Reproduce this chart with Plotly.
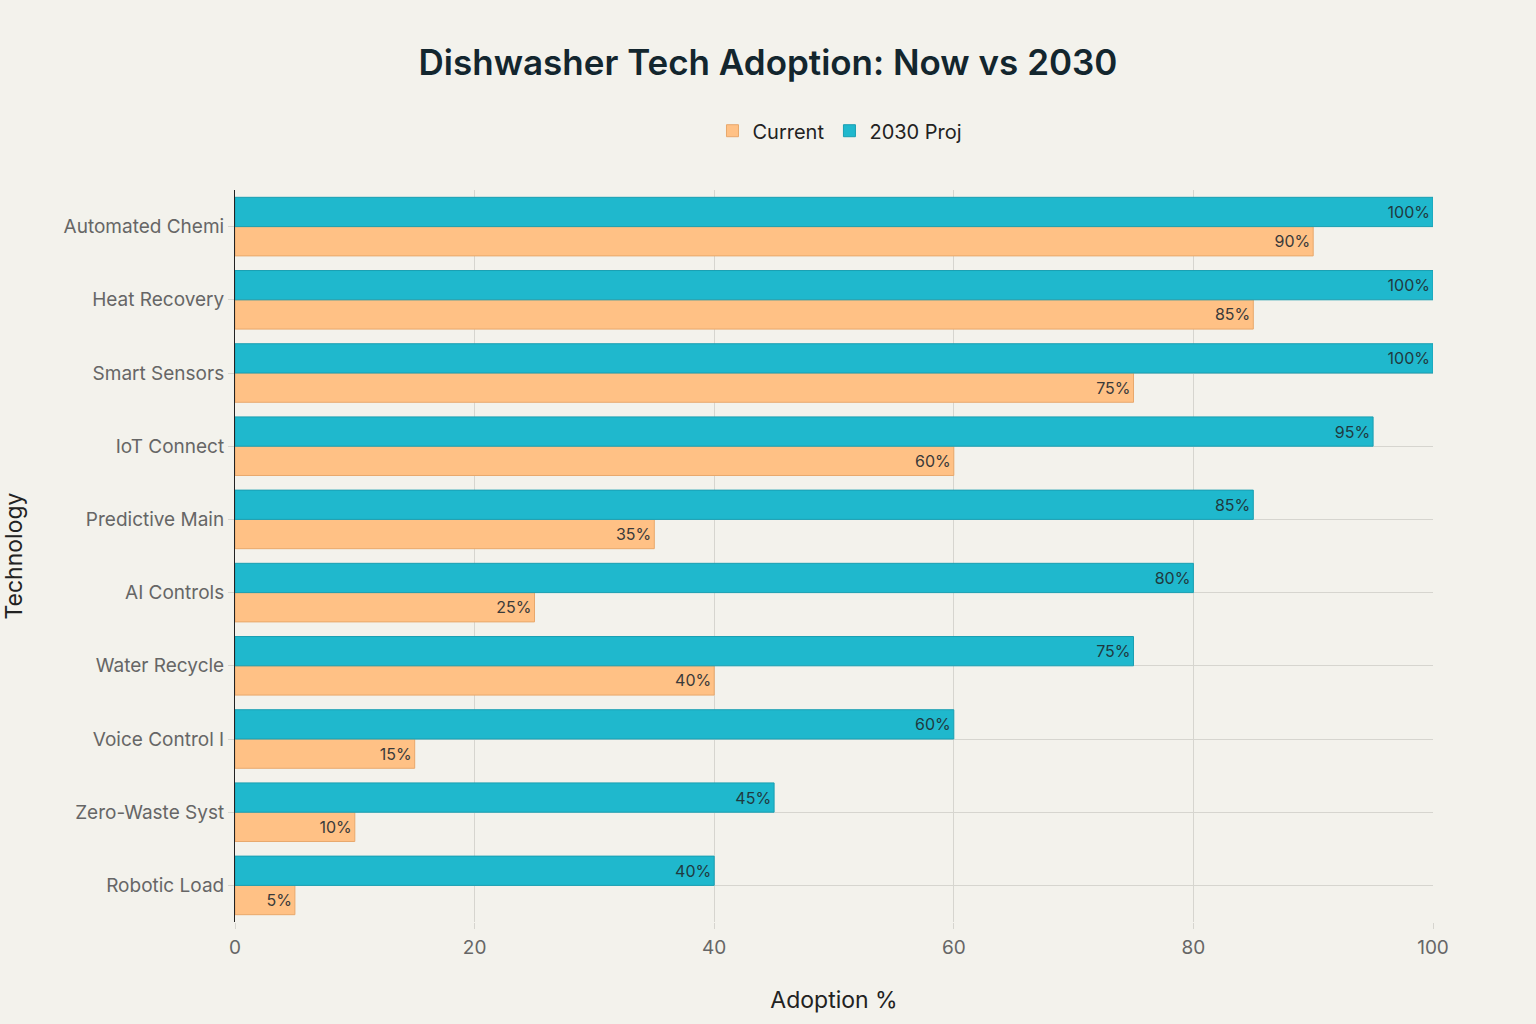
import plotly.graph_objects as go

# categories listed bottom-to-top
technologies = ["Robotic Load", "Zero-Waste Syst", "Voice Control I", "Water Recycle",
                "AI Controls", "Predictive Main", "IoT Connect", "Smart Sensors",
                "Heat Recovery", "Automated Chemi"]
current = [5, 10, 15, 40, 25, 35, 60, 75, 85, 90]
proj_2030 = [40, 45, 60, 75, 80, 85, 95, 100, 100, 100]

font_family = "Inter, 'DejaVu Sans', sans-serif"

fig = go.Figure()
fig.add_trace(go.Bar(
    y=technologies, x=current, name="Current", orientation="h",
    marker=dict(color="#FFC185", line=dict(color="#E8A86C", width=1)),
    text=[f"{v}%" for v in current], textposition="inside", insidetextanchor="end",
    textfont=dict(color="#3a3a3a", size=16), cliponaxis=False,
))
fig.add_trace(go.Bar(
    y=technologies, x=proj_2030, name="2030 Proj", orientation="h",
    marker=dict(color="#1FB8CD", line=dict(color="#1A9FB2", width=1)),
    text=[f"{v}%" for v in proj_2030], textposition="inside", insidetextanchor="end",
    textfont=dict(color="#1f3a40", size=16), cliponaxis=False,
))

fig.update_layout(
    width=1536, height=1024,
    barmode="group", bargap=0.2, bargroupgap=0,
    paper_bgcolor="#F3F2EC", plot_bgcolor="#F3F2EC",
    font=dict(family=font_family, color="#333333", size=18),
    title=dict(text="Dishwasher Tech Adoption: Now vs 2030", x=0.5, xanchor="center",
               y=0.939, yanchor="middle",
               font=dict(size=35, color="#13262e", family=font_family, weight=600)),
    legend=dict(orientation="h", x=0.505, xanchor="center", y=1.081, yanchor="middle",
                font=dict(size=20, color="#222222"), traceorder="normal"),
    margin=dict(l=235, r=103, t=190, b=102),
    uniformtext=dict(minsize=14, mode="show"),
)
fig.update_xaxes(
    range=[0, 100], tickvals=[0, 20, 40, 60, 80, 100], automargin=False,
    title=dict(text="Adoption %", font=dict(size=23, color="#222222"), standoff=34),
    tickfont=dict(size=19, color="#666666"),
    ticks="outside", ticklen=6, tickcolor="#D6D5CF", ticklabelstandoff=2,
    showgrid=True, gridcolor="#D6D5CF", gridwidth=1, zeroline=False,
    showline=False,
)
fig.update_yaxes(
    automargin=False,
    title=dict(text="Technology", font=dict(size=23, color="#222222"), standoff=34),
    tickfont=dict(size=19, color="#666666"),
    showgrid=True, gridcolor="#D6D5CF", gridwidth=1,
    showline=True, linecolor="#222222", linewidth=1,
    ticks="outside", ticklen=6, tickcolor="#D6D5CF",
)

fig.write_html("out.html", config={"displayModeBar": False},
               post_script="document.body.style.margin='0';")
